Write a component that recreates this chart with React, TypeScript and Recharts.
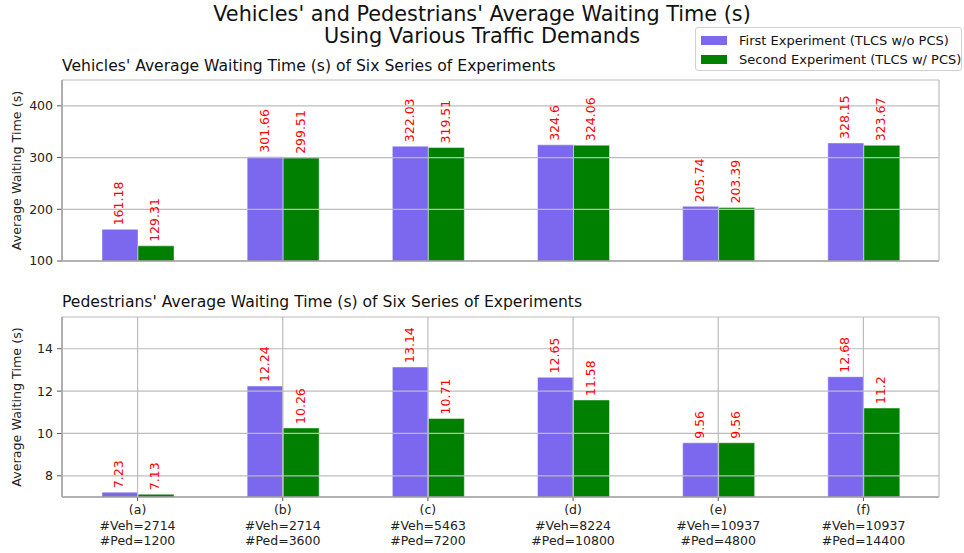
import { BarChart, Bar, XAxis, YAxis, CartesianGrid } from "recharts";

const FONT = "'DejaVu Sans', sans-serif";

const categories = ["(a)", "(b)", "(c)", "(d)", "(e)", "(f)"];
const vehCounts = [2714, 2714, 5463, 8224, 10937, 10937];
const pedCounts = [1200, 3600, 7200, 10800, 4800, 14400];

const vehFirst = [161.18, 301.66, 322.03, 324.6, 205.74, 328.15];
const vehSecond = [129.31, 299.51, 319.51, 324.06, 203.39, 323.67];
const pedFirst = [7.23, 12.24, 13.14, 12.65, 9.56, 12.68];
const pedSecond = [7.13, 10.26, 10.71, 11.58, 9.56, 11.2];

const vehTicks = [100, 200, 300, 400];
const pedTicks = [8, 10, 12, 14];

const seriesNames = ["First Experiment (TLCS w/o PCS)", "Second Experiment (TLCS w/ PCS)"];
const seriesColors = ["#7b68ee", "#008000"];

const vehData = categories.map((c, i) => ({ cat: c, first: vehFirst[i], second: vehSecond[i] }));
const pedData = categories.map((c, i) => ({ cat: c, first: pedFirst[i], second: pedSecond[i] }));

const AXIS = "#555";
const GRID = "#bcbcbc";

const ValueLabel = (props: any) => {
  const { x, y, width, value } = props;
  const cx = x + width / 2 - 1;
  const cy = y - 4;
  return (
    <text
      x={cx}
      y={cy}
      transform={`rotate(-90, ${cx}, ${cy})`}
      textAnchor="start"
      dominantBaseline="central"
      fill="#ff0000"
      fontSize={12.5}
      fontFamily={FONT}
    >
      {value}
    </text>
  );
};

const YLabel = (props: any) => {
  const { viewBox } = props;
  const cx = 16;
  const cy = viewBox.y + viewBox.height / 2;
  return (
    <text
      x={cx}
      y={cy}
      transform={`rotate(-90, ${cx}, ${cy})`}
      textAnchor="middle"
      dominantBaseline="central"
      fill="#222"
      fontSize={12.7}
      fontFamily={FONT}
    >
      Average Waiting Time (s)
    </text>
  );
};

const MultiTick = (props: any) => {
  const { x, y, payload } = props;
  const i = categories.indexOf(payload.value);
  const lines = [categories[i], `#Veh=${vehCounts[i]}`, `#Ped=${pedCounts[i]}`];
  return (
    <text x={x} y={y} textAnchor="middle" fill="#222" fontSize={12.5} fontFamily={FONT}>
      {lines.map((l, k) => (
        <tspan key={k} x={x} dy={k === 0 ? "0.71em" : 15.5}>
          {l}
        </tspan>
      ))}
    </text>
  );
};

function Panel({ data, domain, ticks, xHeight, showTicks, top, height, marginTop }: any) {
  return (
    <div style={{ position: "absolute", left: 0, top }}>
      <BarChart
        width={964}
        height={height}
        data={data}
        margin={{ top: marginTop, right: 25, bottom: 0, left: 0 }}
        barSize={36}
        barGap={0}
      >
        <XAxis
          dataKey="cat"
          height={xHeight}
          padding={{ left: 3, right: 3 }}
          axisLine={{ stroke: AXIS, strokeWidth: 1.2 }}
          tickLine={{ stroke: AXIS }}
          tickSize={4}
          tickMargin={4.5}
          tick={showTicks ? <MultiTick /> : false}
          interval={0}
        />
        <XAxis
          xAxisId="top"
          dataKey="cat"
          orientation="top"
          height={0}
          tick={false}
          tickLine={false}
          axisLine={{ stroke: AXIS, strokeWidth: 1.2 }}
        />
        <YAxis
          width={62}
          domain={domain}
          ticks={ticks}
          allowDataOverflow
          axisLine={{ stroke: AXIS, strokeWidth: 1.2 }}
          tickLine={{ stroke: AXIS }}
          tickSize={5}
          tickMargin={4}
          tick={{ fill: "#222", fontSize: 12.5, fontFamily: FONT }}
          label={<YLabel />}
        />
        <YAxis
          yAxisId="right"
          orientation="right"
          width={0}
          domain={domain}
          allowDataOverflow
          tick={false}
          tickLine={false}
          axisLine={{ stroke: AXIS, strokeWidth: 1.2 }}
        />
        <Bar
          dataKey="first"
          name={seriesNames[0]}
          fill={seriesColors[0]}
          stroke="#ffffff"
          strokeOpacity={0.45}
          isAnimationActive={false}
          label={<ValueLabel />}
        />
        <Bar
          dataKey="second"
          name={seriesNames[1]}
          fill={seriesColors[1]}
          stroke="#ffffff"
          strokeOpacity={0.45}
          isAnimationActive={false}
          label={<ValueLabel />}
        />
        <CartesianGrid stroke={GRID} strokeWidth={1.2} zIndex={1000} />
      </BarChart>
    </div>
  );
}

export default function App() {
  return (
    <div
      style={{
        position: "absolute",
        left: 0,
        top: 0,
        width: 964,
        height: 553,
        background: "#fff",
        fontFamily: FONT,
        color: "#111",
        overflow: "hidden",
      }}
    >
      <div
        style={{
          position: "absolute",
          left: 0,
          width: 964,
          top: 3,
          textAlign: "center",
          fontSize: 20.8,
          lineHeight: "22px",
        }}
      >
        Vehicles' and Pedestrians' Average Waiting Time (s)
        <br />
        Using Various Traffic Demands
      </div>
      <div style={{ position: "absolute", left: 62, top: 57, fontSize: 15.6, lineHeight: "18px" }}>
        Vehicles' Average Waiting Time (s) of Six Series of Experiments
      </div>
      <div style={{ position: "absolute", left: 62, top: 293, fontSize: 15.6, lineHeight: "18px" }}>
        Pedestrians' Average Waiting Time (s) of Six Series of Experiments
      </div>

      <Panel data={vehData} domain={[100, 450]} ticks={vehTicks} xHeight={14} showTicks={false} top={0} height={275} marginTop={80} />
      <Panel data={pedData} domain={[7, 15.5]} ticks={pedTicks} xHeight={56} showTicks top={300} height={253} marginTop={17} />

      <div
        style={{
          position: "absolute",
          left: 695,
          top: 27,
          width: 265,
          height: 42,
          border: "1px solid #d0d0d0",
          borderRadius: 3,
          background: "rgba(255,255,255,0.8)",
          fontSize: 13,
        }}
      >
        {seriesNames.map((n, i) => (
          <div
            key={n}
            style={{ position: "absolute", left: 5, top: 4 + i * 19, height: 16, display: "flex", alignItems: "center", whiteSpace: "nowrap" }}
          >
            <span style={{ display: "inline-block", width: 26, height: 9, background: seriesColors[i], marginRight: 12 }} />
            <span>{n}</span>
          </div>
        ))}
      </div>
    </div>
  );
}
